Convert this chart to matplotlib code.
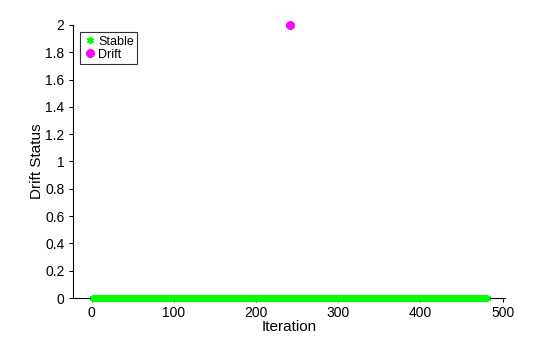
import numpy as np
import matplotlib
matplotlib.use('Agg')
import matplotlib.pyplot as plt

plt.rcParams['font.family'] = ['Liberation Sans', 'DejaVu Sans']

# Data: stable iterations (status 0) and the single drift point (status 2)
n_iter = 481
drift_iter = [241]
drift_status = [2]
stable_iter = [i for i in range(1, n_iter + 1) if i not in drift_iter]
stable_status = [0] * len(stable_iter)

fig = plt.figure(figsize=(5.6, 3.37), dpi=100)
ax = fig.add_axes([0.13, 0.1157, 0.772, 0.8103])

asterisk = (6, 2, 0)
ax.plot(stable_iter, stable_status, linestyle='none', marker=asterisk,
        color=(0, 1, 0), markersize=5, markeredgewidth=1.2,
        label='Stable', clip_on=False, zorder=5)
ax.plot(drift_iter, drift_status, 'o', color=(1, 0, 1), markersize=5.5,
        linestyle='none', label='Drift', clip_on=False, zorder=5)

ax.set_xlim(-23, 503)
ax.set_ylim(0, 2)
ax.set_xticks(np.arange(0, 501, 100))
ax.set_yticks(np.arange(0, 2.01, 0.2))
ax.set_yticklabels(['0', '0.2', '0.4', '0.6', '0.8', '1', '1.2', '1.4', '1.6', '1.8', '2'])
ax.spines['top'].set_visible(False)
ax.spines['right'].set_visible(False)
ax.spines['left'].set_linewidth(0.8)
ax.spines['bottom'].set_linewidth(0.8)
ax.tick_params(direction='out', length=3, width=0.8, labelsize=10, pad=3)

ax.set_xlabel('Iteration', fontsize=11, labelpad=0)
ax.set_ylabel('Drift Status', fontsize=11, labelpad=1)

leg = ax.legend(loc='upper left', fontsize=9, frameon=True, fancybox=False,
                borderpad=0.25, handletextpad=0.2, handlelength=1.0,
                labelspacing=0.1, borderaxespad=0.6)
leg.get_frame().set_edgecolor('black')
leg.get_frame().set_linewidth(0.8)

fig.savefig('out.png', dpi=100)
